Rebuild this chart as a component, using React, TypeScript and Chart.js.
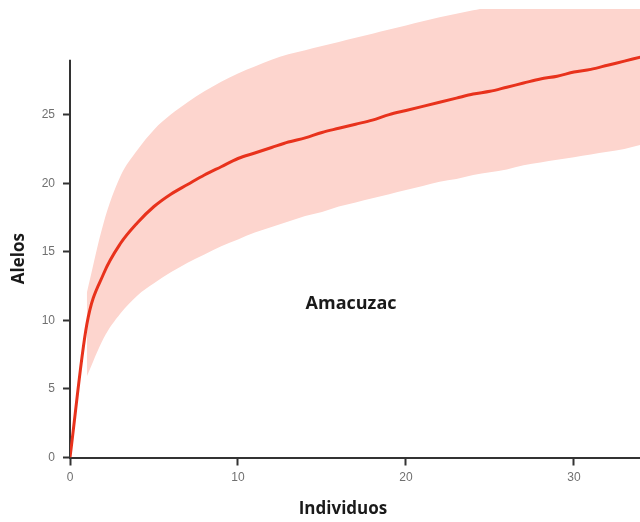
import React, { useEffect, useRef } from "react";
import { Chart, registerables } from "chart.js";

Chart.register(...registerables);

// Rarefaction curve: expected number of alleles by number of sampled individuals
const individuos = [
  0, 1, 2, 3, 4, 5, 6, 7, 8, 9, 10, 11, 12, 13, 14, 15, 16, 17, 18, 19, 20,
  21, 22, 23, 24, 25, 26, 27, 28, 29, 30, 31, 32, 33, 34,
];

const alelos = [
  0, 9.7, 13.4, 15.6, 17.1, 18.3, 19.2, 19.9, 20.6, 21.2, 21.8, 22.2, 22.6,
  23.0, 23.3, 23.7, 24.0, 24.3, 24.6, 25.0, 25.3, 25.6, 25.9, 26.2, 26.5, 26.7,
  27.0, 27.3, 27.6, 27.8, 28.1, 28.3, 28.6, 28.9, 29.2,
];

// 95% confidence limits
const limiteSuperior = [
  null, 12.0, 17.1, 20.5, 22.4, 23.9, 25.0, 25.9, 26.7, 27.4, 28.0, 28.5, 29.0,
  29.4, 29.7, 30.0, 30.3, 30.6, 30.9, 31.2, 31.5, 31.8, 32.1, 32.35, 32.6,
  32.85, 33.1, 33.35, 33.6, 33.85, 34.1, 34.3, 34.5, 34.7, 34.9,
];

const limiteInferior = [
  null, 5.9, 8.7, 10.5, 11.8, 12.7, 13.5, 14.2, 14.8, 15.4, 15.9, 16.4, 16.8,
  17.2, 17.6, 17.9, 18.3, 18.6, 18.9, 19.2, 19.5, 19.8, 20.1, 20.3, 20.6, 20.8,
  21.0, 21.3, 21.5, 21.7, 21.9, 22.1, 22.3, 22.5, 22.8,
];

const xTicks = [0, 10, 20, 30];
const yTicks = [0, 5, 10, 15, 20, 25];

const X_MAX = 33.93;
const Y_MAX = 32.7;
const Y_SPINE_END = 29;

const xTitle = "Individuos";
const yTitle = "Alelos";
const siteLabel = "Amacuzac";
const siteAt = { x: 16.73, y: 11.2 };

const AXIS_COLOR = "#333333";
const TICK_LABEL_COLOR = "#707070";
const TITLE_COLOR = "#1a1a1a";
const LINE_COLOR = "#e8321c";
const BAND_COLOR = "#fdd5ce";
const TITLE_FONT = "bold 17px 'Open Sans', 'Noto Sans', sans-serif";
const SITE_FONT = "bold 18px 'Open Sans', 'Noto Sans', sans-serif";

const pts = (ys: (number | null)[]) =>
  individuos.map((x, i) => ({ x, y: ys[i] }));

const decor = {
  id: "decor",
  beforeDatasetsDraw(chart: any) {
    const { ctx, scales } = chart;
    const x = scales.x;
    const y = scales.y;
    const x0 = x.getPixelForValue(0);
    ctx.save();
    ctx.strokeStyle = AXIS_COLOR;
    ctx.lineWidth = 2;
    ctx.beginPath();
    ctx.moveTo(x0, y.getPixelForValue(0));
    ctx.lineTo(x0, y.getPixelForValue(Y_SPINE_END));
    ctx.stroke();
    ctx.restore();
  },
  afterDraw(chart: any) {
    const { ctx, scales } = chart;
    const x = scales.x;
    const y = scales.y;
    ctx.save();
    ctx.fillStyle = TITLE_COLOR;
    ctx.textAlign = "center";
    ctx.textBaseline = "middle";
    ctx.font = TITLE_FONT;
    ctx.fillText(xTitle, x.getPixelForValue(16.25), 509);
    ctx.font = SITE_FONT;
    ctx.fillText(
      siteLabel,
      x.getPixelForValue(siteAt.x),
      y.getPixelForValue(siteAt.y)
    );
    ctx.font = TITLE_FONT;
    ctx.translate(19, y.getPixelForValue(14.5));
    ctx.rotate(-Math.PI / 2);
    ctx.fillText(yTitle, 0, 0);
    ctx.restore();
  },
};

export default function App() {
  const canvasRef = useRef<HTMLCanvasElement | null>(null);

  useEffect(() => {
    document.body.style.margin = "0";
    const canvas = canvasRef.current;
    if (!canvas) return;

    const chart = new Chart(canvas, {
      type: "line",
      data: {
        datasets: [
          {
            label: "Alelos",
            data: pts(alelos),
            borderColor: LINE_COLOR,
            borderWidth: 3,
            pointRadius: 0,
            cubicInterpolationMode: "monotone",
            fill: false,
          },
          {
            label: "Límite superior",
            data: pts(limiteSuperior),
            borderColor: "rgba(0,0,0,0)",
            borderWidth: 0,
            backgroundColor: BAND_COLOR,
            pointRadius: 0,
            cubicInterpolationMode: "monotone",
            fill: "+1",
          },
          {
            label: "Límite inferior",
            data: pts(limiteInferior),
            borderColor: "rgba(0,0,0,0)",
            borderWidth: 0,
            pointRadius: 0,
            cubicInterpolationMode: "monotone",
            fill: false,
          },
        ],
      },
      options: {
        responsive: false,
        animation: false,
        devicePixelRatio: 1,
        layout: { padding: { top: 9, right: 0, left: 0, bottom: 0 } },
        plugins: {
          legend: { display: false },
          tooltip: { enabled: false },
        },
        scales: {
          x: {
            type: "linear",
            min: 0,
            max: X_MAX,
            afterFit: (s: any) => {
              s.height = 64.5;
              s.paddingLeft = 0;
              s.paddingRight = 0;
            },
            afterBuildTicks: (s: any) => {
              s.ticks = xTicks.map((v) => ({ value: v }));
            },
            grid: {
              display: true,
              drawOnChartArea: false,
              drawTicks: true,
              tickLength: 8,
              tickWidth: 2,
              tickColor: AXIS_COLOR,
            },
            border: { display: true, color: AXIS_COLOR, width: 2 },
            ticks: {
              color: TICK_LABEL_COLOR,
              padding: 5,
              maxRotation: 0,
              font: { family: "Arial, 'Liberation Sans', sans-serif", size: 12 },
            },
          },
          y: {
            type: "linear",
            min: 0,
            max: Y_MAX,
            afterFit: (s: any) => {
              s.width = 70;
              s.paddingTop = 0;
              s.paddingBottom = 0;
            },
            afterBuildTicks: (s: any) => {
              s.ticks = yTicks.map((v) => ({ value: v }));
            },
            grid: {
              display: true,
              drawOnChartArea: false,
              drawTicks: true,
              tickLength: 7,
              tickWidth: 2,
              tickColor: AXIS_COLOR,
            },
            border: { display: false },
            ticks: {
              color: TICK_LABEL_COLOR,
              padding: 8,
              font: { family: "Arial, 'Liberation Sans', sans-serif", size: 12 },
            },
          },
        },
      },
      plugins: [decor],
    });

    return () => chart.destroy();
  }, []);

  return (
    <canvas
      ref={canvasRef}
      width={640}
      height={522}
      style={{ display: "block", width: 640, height: 522 }}
    />
  );
}
